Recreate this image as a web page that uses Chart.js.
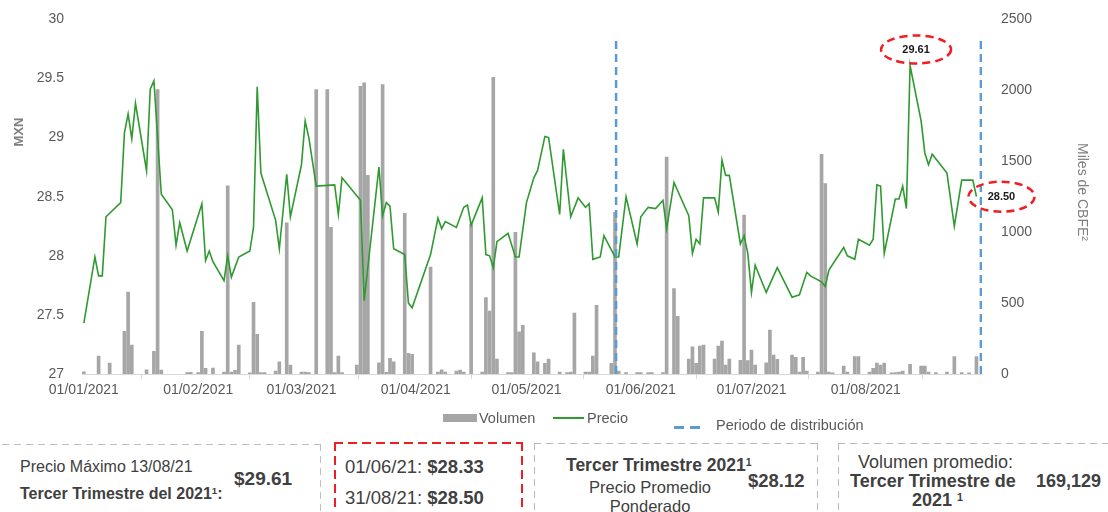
<!DOCTYPE html>
<html lang="es">
<head>
<meta charset="utf-8">
<script src="https://cdn.jsdelivr.net/npm/chart.js@4.4.1/dist/chart.umd.min.js"></script>
<style>
  body { margin: 0; background: #fff; font-family: "Liberation Sans", Arial, sans-serif; color: #404040; }
  #lienzo { position: relative; width: 1108px; height: 512px; overflow: hidden; }
  #contenedor { position: absolute; left: 0; top: 0; width: 1108px; height: 440px; }
  .t { position: absolute; white-space: nowrap; transform: translateY(-50%); line-height: 1; }
  .b { font-weight: bold; }
  .ley { font-size: 14.5px; color: #595959; }
  .caja {
    --c: #bfbfbf; --g: 1px; --d: 7px; --e: 12px;
    position: absolute; height: 120px;
    background:
      repeating-linear-gradient(90deg, var(--c) 0 var(--d), transparent var(--d) var(--e)) left top / 100% var(--g) no-repeat,
      repeating-linear-gradient(180deg, var(--c) 0 var(--d), transparent var(--d) var(--e)) left top / var(--g) 100% no-repeat,
      repeating-linear-gradient(180deg, var(--c) 0 var(--d), transparent var(--d) var(--e)) right top / var(--g) 100% no-repeat;
  }
  .roja { --c: #f01e23; --g: 2px; --d: 9px; --e: 14px; }
  .verde { --c: #b3bdb8; }
  sup { font-size: 60%; vertical-align: 0.5em; }
</style>
</head>
<body>
<div id="lienzo">
  <div id="contenedor"><canvas id="grafica"></canvas></div>

  <!-- leyenda -->
  <span style="position:absolute;left:443px;top:414px;width:34px;height:8px;background:#a6a6a6"></span>
  <span class="t ley" style="left:479px;top:418px">Volumen</span>
  <span style="position:absolute;left:553px;top:417px;width:31px;height:2px;background:#2e9a30"></span>
  <span class="t ley" style="left:587px;top:418px">Precio</span>
  <span style="position:absolute;left:674px;top:426px;width:10px;height:2.5px;background:#5b9bd5"></span>
  <span style="position:absolute;left:690px;top:426px;width:10px;height:2.5px;background:#5b9bd5"></span>
  <span class="t ley" style="left:716px;top:425px">Periodo de distribución</span>

  <!-- cajas de resumen -->
  <div class="caja" style="left:-10px;top:444px;width:331px"></div>
  <span class="t" style="left:20px;top:467px;font-size:16px">Precio Máximo 13/08/21</span>
  <span class="t b" style="left:234px;top:478px;font-size:19px">$29.61</span>
  <span class="t b" style="left:20px;top:494px;font-size:16px">Tercer Trimestre del 2021<sup>1</sup>:</span>

  <div class="caja roja" style="left:334px;top:442px;width:189px"></div>
  <span class="t" style="left:345px;top:467px;font-size:18.5px">01/06/21: <b>$28.33</b></span>
  <span class="t" style="left:345px;top:498px;font-size:18.5px">31/08/21: <b>$28.50</b></span>

  <div class="caja verde" style="left:534px;top:443px;width:284px"></div>
  <span class="t b" style="left:566px;top:466px;font-size:17.5px">Tercer Trimestre 2021<sup>1</sup></span>
  <span class="t" style="left:650px;top:487px;font-size:16.5px;transform:translate(-50%,-50%)">Precio Promedio</span>
  <span class="t" style="left:650px;top:506px;font-size:16.5px;transform:translate(-50%,-50%)">Ponderado</span>
  <span class="t b" style="left:748px;top:481px;font-size:18.5px">$28.12</span>

  <div class="caja verde" style="left:838px;top:443px;width:300px"></div>
  <span class="t" style="left:858px;top:462px;font-size:18px">Volumen promedio:</span>
  <span class="t b" style="left:850px;top:481px;font-size:18px">Tercer Trimestre de</span>
  <span class="t b" style="left:912px;top:500px;font-size:18px">2021 <sup>1</sup></span>
  <span class="t b" style="left:1036px;top:481px;font-size:18px">169,129</span>
</div>

<script>
// Ejes: dias desde el 01/01/2021
const diasTicks = [0, 31, 59, 90, 120, 151, 181, 212];
const etiquetasTicks = ['01/01/2021', '01/02/2021', '01/03/2021', '01/04/2021', '01/05/2021', '01/06/2021', '01/07/2021', '01/08/2021'];

// Precio (MXN)
const diasPrecio = [0, 3, 4, 5, 6, 10, 11, 12, 13, 14, 17, 18, 19, 21, 24, 25, 26, 28, 32, 33, 34, 35, 38, 39, 40, 42,
  45, 46, 47, 48, 52, 53, 55, 56, 59, 60, 61, 63, 68, 69, 70, 75, 76, 80, 81, 82, 83, 84, 87, 88, 89, 94, 96, 97, 98,
  101, 103, 104, 105, 108, 109, 110, 111, 112, 115, 117, 118, 120, 122, 123, 125, 126, 129, 130, 132, 134, 136, 137,
  138, 140, 141, 144, 145, 147, 150, 151, 153, 155, 157, 158, 160, 164, 165, 166, 167, 168, 171, 172, 173, 174, 175,
  178, 179, 180, 181, 182, 185, 188, 192, 194, 196, 197, 200, 201, 202, 206, 207, 209, 210, 213, 214, 215, 216, 217,
  220, 221, 222, 223, 224, 227, 228, 229, 230, 234, 236, 238, 241, 242];
const precio = [27.43, 27.99, 27.83, 27.83, 28.33, 28.45, 29.04, 29.20, 28.99, 29.29, 28.72, 29.41, 29.48, 28.52, 28.39,
  28.09, 28.28, 28.04, 28.44, 27.96, 28.04, 27.95, 27.79, 28.00, 27.82, 27.99,
  28.04, 28.24, 29.43, 28.70, 28.30, 28.06, 28.69, 28.33, 28.77, 29.14, 29.00, 28.59, 28.60, 28.35, 28.66, 28.47, 27.62,
  28.75, 28.34, 28.45, 28.42, 28.06, 28.01, 27.60, 27.56, 28.01, 28.32, 28.23, 28.29,
  28.24, 28.41, 28.43, 28.26, 28.49, 28.01, 28.00, 27.90, 28.12, 28.19, 27.99, 27.99, 28.45, 28.66, 28.72, 29.01, 29.00,
  28.35, 28.90, 28.33, 28.49, 28.41, 28.44,
  27.97, 27.99, 28.17, 27.99, 27.99, 28.50, 28.10, 28.33, 28.41, 28.40, 28.47, 28.23, 28.62, 28.34, 28.02, 28.14, 28.10,
  28.49, 28.49, 28.37, 28.81, 28.68, 28.68,
  28.10, 28.17, 28.02, 27.69, 27.92, 27.69, 27.90, 27.65, 27.67, 27.86, 27.83, 27.78, 27.74, 27.88, 28.07, 28.00, 27.97,
  28.14, 28.09, 28.14, 28.60, 28.59, 28.02,
  28.48, 28.48, 28.59, 28.40, 29.61, 29.14, 28.87, 28.77, 28.86, 28.70, 28.25, 28.64, 28.64, 28.50];

// Volumen (miles de CBFEs)
const diasVolumen = [0, 4, 7, 11, 12, 13, 17, 19, 20, 21, 28, 29, 31, 32, 33, 35, 38, 39, 40, 41, 42, 45, 46, 47, 48, 49,
  52, 53, 55, 56, 59, 60, 61, 63, 66, 67, 68, 69, 70, 74, 75, 76, 77, 80, 81, 82, 83, 84, 87, 88, 89, 94, 96, 97, 98,
  101, 102, 103, 105, 108, 109, 110, 111, 112, 115, 116, 117, 118, 119, 122, 123, 125, 126, 129, 131, 132, 133, 136,
  137, 138, 139, 143, 144, 145, 147, 150, 151, 153, 154, 157, 158, 160, 161, 164, 165, 166, 167, 168, 171, 172, 173,
  174, 175, 178, 179, 180, 181, 182, 185, 186, 187, 188, 192, 193, 194, 195, 196, 199, 200, 201, 202, 203, 206, 207,
  209, 210, 213, 214, 215, 216, 217, 219, 220, 221, 222, 224, 227, 228, 229, 231, 234, 236, 238, 240, 242];
const volumen = [16, 126, 77, 300, 578, 204, 30, 160, 2005, 28, 10, 12, 10, 300, 40, 42, 14, 1327, 14, 25, 204, 8, 505,
  279, 10, 10,
  20, 86, 1065, 63, 14, 14, 10, 2005, 2005, 1034, 10, 126, 10, 63, 2029, 2052, 1400, 79, 2040, 12, 110, 86, 1132, 145,
  138, 753, 14, 30, 14,
  20, 28, 14, 1058, 14, 538, 444, 2092, 105, 10, 10, 999, 297, 344, 150, 86, 75, 105, 14, 10, 14, 430, 14,
  14, 126, 484, 75, 1139, 20, 10, 10, 10, 10, 10, 10, 1530, 602, 407, 105, 192, 75, 197, 204, 105, 197, 232,
  63, 105, 96, 1120, 94, 168, 63, 79, 309, 133, 103, 133, 117, 14, 117, 20, 14, 1549, 1343, 14, 8, 56, 14,
  122, 122, 14, 40, 77, 63, 77, 8, 10, 14, 20, 68, 56, 56, 14, 10, 14, 122, 10, 8, 122];

// Periodo de distribucion (inicio y fin)
const diasDistribucion = [144.3, 243.2];
const rangoDistribucion = [27, 29.86];


const puntosPrecio = diasPrecio.map((d, i) => ({ x: d, y: precio[i] }));
const puntosVolumen = diasVolumen.map((d, i) => ({ x: d, y: volumen[i] }));
const puntosDistribucion = [];
diasDistribucion.forEach((d, i) => {
  if (i) puntosDistribucion.push({ x: d, y: null });
  puntosDistribucion.push({ x: d, y: rangoDistribucion[0] }, { x: d, y: rangoDistribucion[1] });
});

const FUENTE = '"Liberation Sans", Arial, sans-serif';
Chart.defaults.font.family = FUENTE;

// dibuja una elipse roja discontinua con su texto
const elipse = (ctx, cx, cy, rx, ry, texto) => {
  ctx.save();
  ctx.strokeStyle = '#f01e23';
  ctx.lineWidth = 2.5;
  ctx.setLineDash([8, 5]);
  ctx.beginPath();
  ctx.ellipse(cx, cy, rx, ry, 0, 0, Math.PI * 2);
  ctx.stroke();
  ctx.fillStyle = '#1a1a1a';
  ctx.font = 'bold 11px ' + FUENTE;
  ctx.textAlign = 'center';
  ctx.textBaseline = 'middle';
  ctx.fillText(texto, cx, cy);
  ctx.restore();
};

const anotaciones = {
  id: 'anotaciones',
  afterDraw(chart) {
    const { ctx, scales: { x, y } } = chart;

    // titulos de los ejes
    ctx.save();
    ctx.fillStyle = '#7f7f7f';
    ctx.textAlign = 'center';
    ctx.textBaseline = 'middle';
    ctx.font = 'bold 13px ' + FUENTE;
    ctx.translate(19, 132);
    ctx.rotate(-Math.PI / 2);
    ctx.fillText('MXN', 0, 0);
    ctx.restore();

    ctx.save();
    ctx.fillStyle = '#7f7f7f';
    ctx.textAlign = 'center';
    ctx.textBaseline = 'middle';
    ctx.font = '14px ' + FUENTE;
    ctx.translate(1082, 192);
    ctx.rotate(Math.PI / 2);
    ctx.fillText('Miles de CBFE²', 0, 0);
    ctx.restore();

    // maximo y ultimo precio
    const iMax = precio.indexOf(Math.max(...precio));
    const iFin = precio.length - 1;
    elipse(ctx, x.getPixelForValue(diasPrecio[iMax]) + 6, y.getPixelForValue(precio[iMax]) - 16, 35, 14, precio[iMax].toFixed(2));
    elipse(ctx, x.getPixelForValue(diasPrecio[iFin]) + 25, y.getPixelForValue(precio[iFin]), 33, 15, precio[iFin].toFixed(2));
  }
};

var Canvas = document.getElementById('grafica');

var grafica = new Chart(Canvas, {
  type: 'bar',
  data: {
    datasets: [{
      type: 'line',
      label: 'Periodo de distribución',
      data: puntosDistribucion,
      yAxisID: 'y',
      borderColor: '#5b9bd5',
      borderWidth: 2.5,
      borderDash: [8, 5],
      pointRadius: 0,
      spanGaps: false,
      order: 0
    }, {
      type: 'line',
      label: 'Precio',
      data: puntosPrecio,
      yAxisID: 'y',
      borderColor: '#2e9a30',
      borderWidth: 1.6,
      pointRadius: 0,
      tension: 0,
      order: 1
    }, {
      type: 'bar',
      label: 'Volumen',
      data: puntosVolumen,
      yAxisID: 'y1',
      backgroundColor: '#a6a6a6',
      barThickness: 3,
      order: 2
    }]
  },
  options: {
    responsive: true,
    maintainAspectRatio: false,
    animation: false,
    layout: { padding: { top: 18, left: 0, right: 0, bottom: 0 } },
    plugins: { legend: { display: false }, tooltip: { enabled: false } },
    scales: {
      x: {
        type: 'linear',
        min: -0.5,
        max: 243.5,
        offset: false,
        afterBuildTicks: (axis) => { axis.ticks = diasTicks.map(v => ({ value: v })); },
        afterFit: (scale) => { scale.height = 66; },
        ticks: {
          autoSkip: false,
          maxRotation: 0,
          padding: 3,
          color: '#595959',
          font: { size: 14 },
          callback: (v) => etiquetasTicks[diasTicks.indexOf(v)]
        },
        grid: { drawOnChartArea: false, drawTicks: true, tickLength: 5, color: '#d9d9d9' },
        border: { color: '#d9d9d9' }
      },
      y: {
        position: 'left',
        min: 27,
        max: 30,
        afterFit: (scale) => { scale.width = 82; },
        ticks: { stepSize: 0.5, padding: 10, color: '#595959', font: { size: 14 }, callback: (v) => String(v) },
        grid: { display: false },
        border: { display: false }
      },
      y1: {
        position: 'right',
        min: 0,
        max: 2500,
        afterFit: (scale) => { scale.width = 126; },
        ticks: { stepSize: 500, padding: 11, color: '#595959', font: { size: 14 }, callback: (v) => String(v) },
        grid: { display: false },
        border: { display: false }
      }
    }
  },
  plugins: [anotaciones]
});
</script>
</body>
</html>
